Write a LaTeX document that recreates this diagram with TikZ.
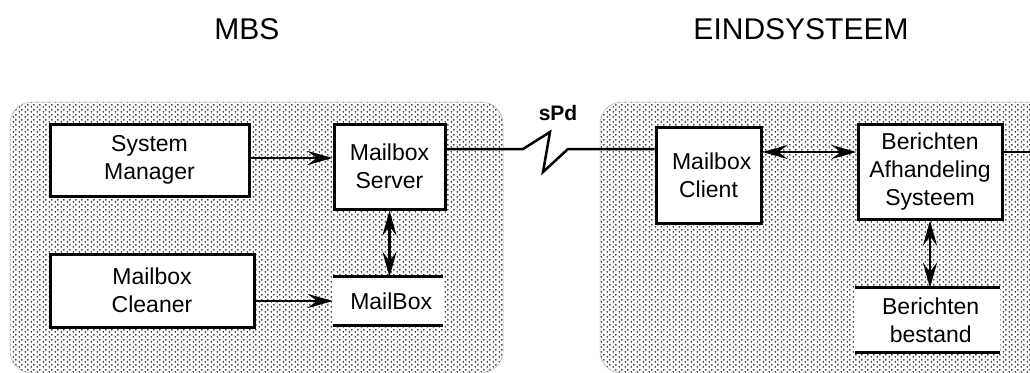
\documentclass[tikz,border=0pt]{standalone}
\usepackage{fontspec}
\setmainfont{Liberation Sans}
\usetikzlibrary{arrows.meta,patterns.meta}

\tikzdeclarepattern{
  name=sysdots,
  type=uncolored,
  bottom left={(0pt,0pt)},
  top right={(6pt,5pt)},
  tile size={(6pt,5pt)},
  code={
    \fill (1.5pt,1.25pt) circle (0.95pt);
    \fill (4.5pt,3.75pt) circle (0.95pt);
  }
}

\begin{document}
\begin{tikzpicture}[x=1pt,y=-1pt,
    panel/.style={pattern=sysdots,pattern color=black,draw=gray!60,line width=.5pt,rounded corners=22pt},
    blok/.style={draw,fill=white,line width=3pt,inner sep=0pt,align=center,font=\fontsize{23}{28}\selectfont},
    opslag/.style={fill=white,inner sep=0pt,align=center,font=\fontsize{23}{28}\selectfont},
    lijn/.style={line width=2.5pt},
    pijl/.style={lijn,-{Stealth[length=25pt,width=14pt,inset=9pt]}},
    dpijl/.style={lijn,{Stealth[length=25pt,width=14pt,inset=9pt]}-{Stealth[length=25pt,width=14pt,inset=9pt]}},
    titel/.style={font=\fontsize{30}{36}\selectfont}]
    \useasboundingbox (0,0) rectangle (1030,372);
    \clip (0,0) rectangle (1030,372);
    \fill[white] (0,0) rectangle (1030,372);
    % the two systems
    \path[panel] (10,102) rectangle (503,373);
    \path[panel] (600,102) rectangle (1060,373);
    \node[titel] (mbs) at (247,29) {MBS};
    \node[titel] (eind) at (801,29) {EINDSYSTEEM};
    % MBS side
    \node[blok,minimum width=199,minimum height=72] (sysman) at (149.5,160) {System\\Manager};
    \node[blok,minimum width=111,minimum height=85] (server) at (389.5,166.5) {Mailbox\\Server};
    \node[blok,minimum width=204,minimum height=73] (cleaner) at (152,290.5) {Mailbox\\Cleaner};
    \node[opslag,minimum width=110,minimum height=48] (mailbox) at (388,301) {\ MailBox};
    \draw[line width=3pt] (mailbox.north west) -- (mailbox.north east);
    \draw[line width=3pt] (mailbox.south west) -- (mailbox.south east);
    % eindsysteem side
    \node[blok,minimum width=105,minimum height=96] (client) at (708.5,175) {\ Mailbox\\Client};
    \node[blok,minimum width=144,minimum height=95] (bas) at (930,171.5) {Berichten\\Afhandeling\\Systeem};
    \node[opslag,minimum width=145,minimum height=64] (bestand) at (927.5,320) {\ Berichten\\\ bestand};
    \draw[line width=3pt] (bestand.north west) -- (bestand.north east);
    \draw[line width=3pt] (bestand.south west) -- (bestand.south east);
    % connections
    \draw[pijl] ([yshift=2pt]sysman.east) -- ([yshift=2pt]sysman.east -| server.west);
    \draw[pijl] (cleaner.east |- mailbox.west) -- (mailbox.west);
    \draw[dpijl] (server.south) -- (server.south |- mailbox.north);
    % sPd link
    \coordinate (zin) at (523,149);
    \coordinate (zup) at (550,132);
    \coordinate (zdown) at (543,172);
    \coordinate (zout) at (568,149);
    \draw[lijn,line join=miter] (server.east |- zin) -- (zin) -- (zup) -- (zdown) -- (zout) -- (client.west |- zout);
    \node[font=\bfseries\fontsize{21}{24}\selectfont] (spd) at (558,113) {sPd};
    \coordinate (cb) at ([yshift=23pt]client.east);
    \coordinate (rand) at (1030,0);
    \draw[dpijl] (cb) -- (cb -| bas.west);
    \draw[lijn] (cb -| bas.east) -- (cb -| rand);
    \draw[dpijl] (bas.south) -- (bas.south |- bestand.north);
\end{tikzpicture}
\end{document}
